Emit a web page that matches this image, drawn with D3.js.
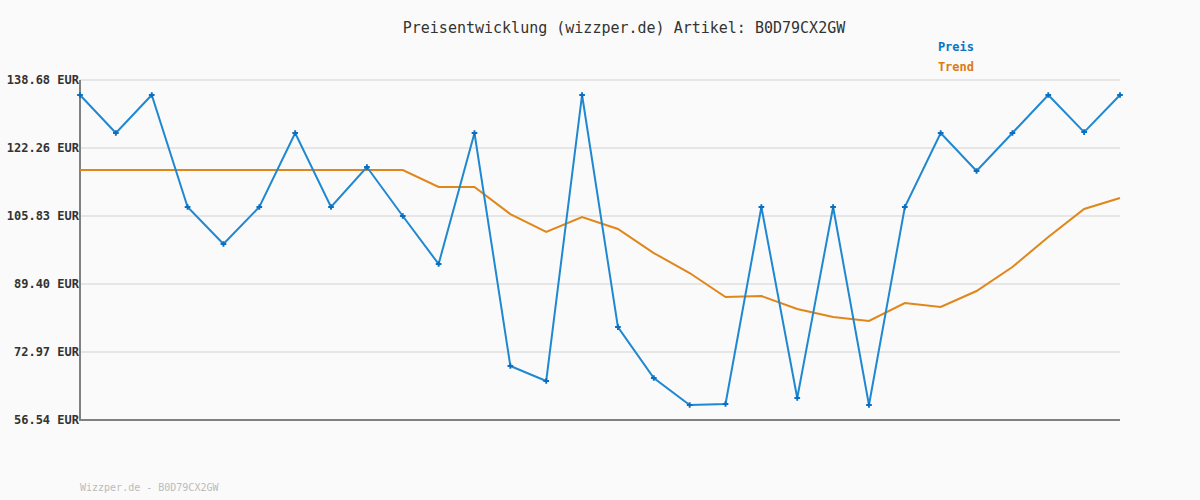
<!DOCTYPE html>
<html><head><meta charset="utf-8">
<script src="https://cdn.jsdelivr.net/npm/d3@7"></script>
<style>body{margin:0;background:#fafafa;}svg{display:block;}</style>
</head><body>
<svg id="c" width="1200" height="500"></svg>
<script>
const preis = [135.06,125.88,135.06,108.0,99.06,108.0,125.88,108.0,117.66,105.82,94.23,125.88,69.58,65.96,135.06,79.0,66.68,60.16,60.4,108.0,61.85,108.0,60.16,108.0,125.88,116.7,125.88,135.06,126.1,135.06];
const trend = [116.94,116.94,116.94,116.94,116.94,116.94,116.94,116.94,116.94,116.94,112.83,112.83,106.3,101.96,105.58,102.68,96.88,92.05,86.25,86.5,83.36,81.43,80.46,84.81,83.84,87.7,93.5,100.75,107.52,110.18];
const yTicks = [56.54,72.97,89.40,105.83,122.26,138.68];
const title = "Preisentwicklung (wizzper.de) Artikel: B0D79CX2GW";
const footer = "Wizzper.de - B0D79CX2GW";

const svg = d3.select("#c");
svg.append("rect").attr("width",1200).attr("height",500).attr("fill","#fafafa");
const x = d3.scaleLinear().domain([0, preis.length-1]).range([80,1120]);
const y = d3.scaleLinear().domain([56.54,138.68]).range([420,80]);
const mono = "'DejaVu Sans Mono', 'Liberation Mono', monospace";

// grid
svg.append("g").selectAll("line").data(yTicks).join("line")
  .attr("x1",80).attr("x2",1120).attr("y1",d=>y(d)).attr("y2",d=>y(d))
  .attr("stroke","#e6e6e6").attr("stroke-width",2);

// axis labels
const yAxis = d3.axisLeft(y).tickValues(yTicks).tickSize(0).tickPadding(1).tickFormat(d=>d.toFixed(2)+" EUR");
const ga = svg.append("g").attr("transform","translate(80,0)").call(yAxis);
ga.select(".domain").remove();
ga.selectAll("text").attr("font-family",mono).attr("font-size",12).attr("font-weight","bold").attr("fill","#333").attr("x",-1);

// axes lines
svg.append("line").attr("x1",80).attr("x2",80).attr("y1",80).attr("y2",421).attr("stroke","#808080").attr("stroke-width",2);
svg.append("line").attr("x1",79).attr("x2",1120).attr("y1",420).attr("y2",420).attr("stroke","#808080").attr("stroke-width",2);

const line = d3.line().x((d,i)=>x(i)).y(d=>y(d));
svg.append("path").datum(trend).attr("d",line).attr("fill","none").attr("stroke","#e0861a").attr("stroke-width",2);
svg.append("path").datum(preis).attr("d",line).attr("fill","none").attr("stroke","#1f88d0").attr("stroke-width",2);
svg.append("g").selectAll("path").data(preis).join("path")
  .attr("d",d3.symbol(d3.symbolCross,18))
  .attr("transform",(d,i)=>`translate(${x(i)},${y(d)})`).attr("fill","#0a6fc0");

svg.append("text").attr("x",624).attr("y",33).attr("text-anchor","middle").attr("font-family",mono).attr("font-size",15).attr("fill","#333").text(title);
svg.append("text").attr("x",974).attr("y",51).attr("text-anchor","end").attr("font-family",mono).attr("font-size",12).attr("font-weight","bold").attr("fill","#0a75c2").text("Preis");
svg.append("text").attr("x",974).attr("y",71).attr("text-anchor","end").attr("font-family",mono).attr("font-size",12).attr("font-weight","bold").attr("fill","#dd7a10").text("Trend");
svg.append("text").attr("x",80).attr("y",491).attr("font-family",mono).attr("font-size",10).attr("fill","#bbb").text(footer);
</script>
</body></html>
